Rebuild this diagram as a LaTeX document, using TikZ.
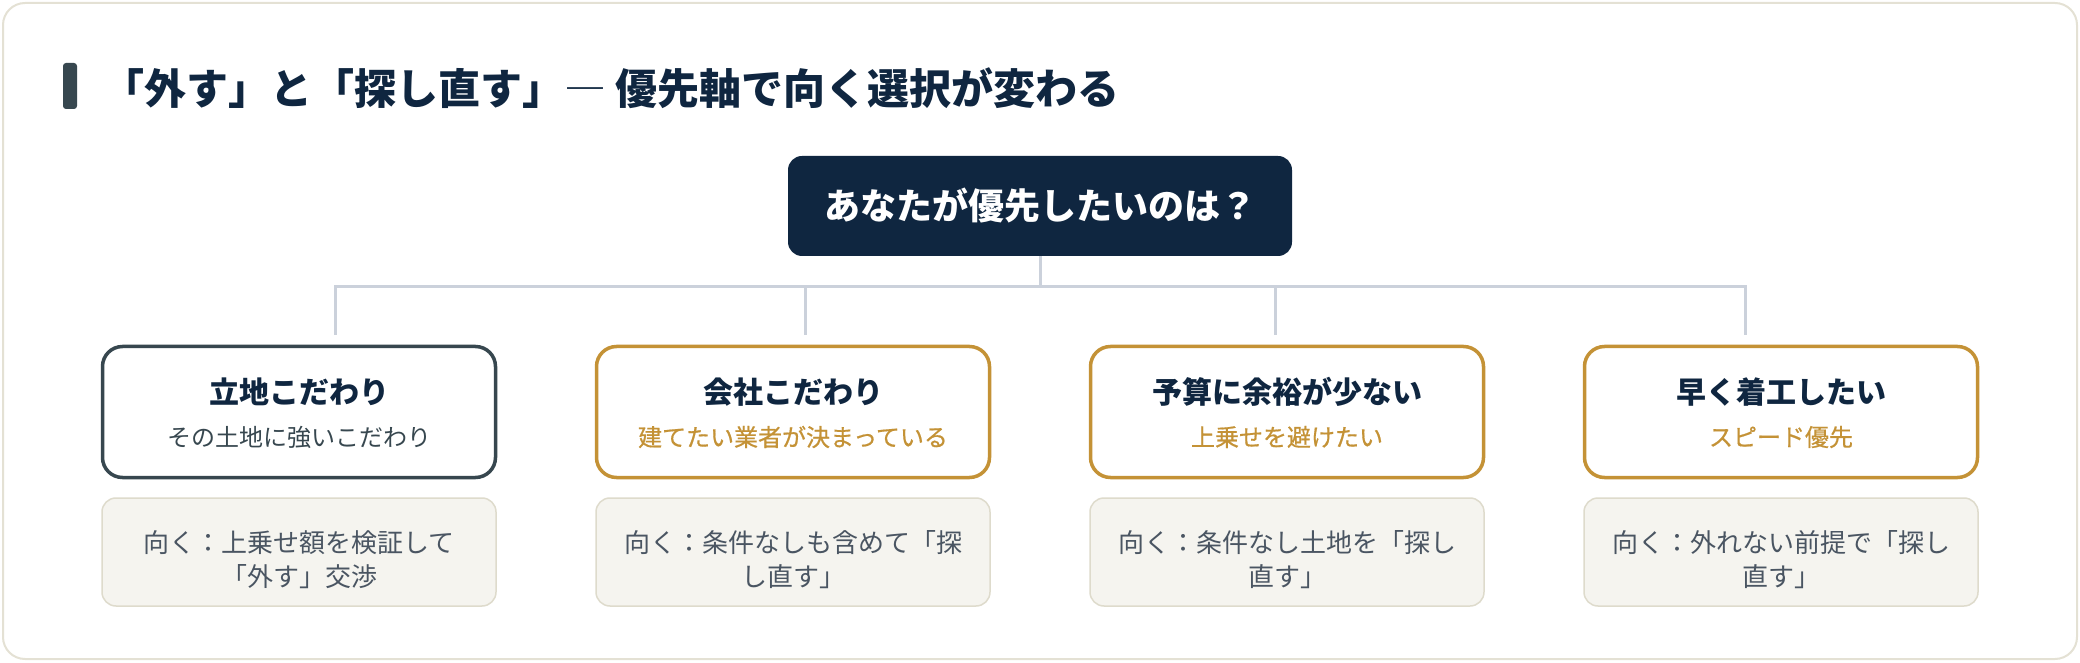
\documentclass[tikz,border=0pt]{standalone}
\usepackage{fontspec}
\setmainfont{Noto Sans CJK JP}
\newfontfamily\jpsemi{Noto Sans CJK JP}[FakeBold=0.6]
\usepackage{xcolor}
\definecolor{navyblue}{RGB}{15,38,64}
\definecolor{slategray}{RGB}{55,71,79}
\definecolor{ochregold}{RGB}{196,146,54}
\definecolor{linkgray}{RGB}{203,209,219}
\definecolor{notefill}{RGB}{245,244,239}
\definecolor{noteline}{RGB}{222,219,204}
\definecolor{notetext}{RGB}{74,85,98}
\definecolor{framebeige}{RGB}{228,225,212}
\usepackage{tikz}
\tikzset{
  link/.style={draw=linkgray, line width=3pt},
  choicebox/.style={draw=#1, line width=3.5pt, rounded corners=20pt, fill=white,
    minimum width=393pt, minimum height=131pt, inner sep=0pt},
  notebox/.style={draw=noteline, line width=1.5pt, rounded corners=14pt, fill=notefill,
    minimum width=394pt, minimum height=108pt, inner sep=0pt},
  headtext/.style={text=navyblue, font=\fontsize{30}{36}\selectfont\bfseries},
  subtext/.style={text=#1, font=\fontsize{24}{30}\selectfont},
  notetxt/.style={text=notetext, align=center, font=\fontsize{26}{34}\selectfont}
}

\begin{document}
\begin{tikzpicture}[x=1pt, y=1pt]
    \useasboundingbox (0,0) rectangle (2080,662);
    \draw[draw=framebeige, line width=2pt, rounded corners=22pt, fill=white] (3,3) rectangle (2077,659);
    \fill[slategray, rounded corners=3pt] (63,553) rectangle (77,599);
    \node[anchor=west, inner sep=0pt, text=navyblue, font=\fontsize{42}{50}\selectfont\bfseries] (title) at (102,574)
        {「外す」と「探し直す」{\mdseries ―} 優先軸で向く選択が変わる};
    \node[fill=navyblue, rounded corners=14pt, minimum width=504pt, minimum height=100pt, inner sep=0pt,
        text=white, font=\fontsize{36}{42}\selectfont\bfseries] (ask) at (1040,456) {あなたが優先したいのは？};
    \coordinate (hub) at (1040,375);
    \draw[link] (ask.south) -- (hub);
    \foreach \n/\cx/\dx/\col/\head/\sub/\lineA/\lineB in {
        1/299/335/slategray/立地こだわり/その土地に強いこだわり/向く：上乗せ額を検証して/「外す」交渉,
        2/793/805/ochregold/会社こだわり/建てたい業者が決まっている/向く：条件なしも含めて「探/し直す」,
        3/1287/1275/ochregold/予算に余裕が少ない/上乗せを避けたい/向く：条件なし土地を「探し/直す」,
        4/1781/1745/ochregold/早く着工したい/スピード優先/向く：外れない前提で「探し/直す」} {
        \coordinate (drop\n) at (\dx,375);
        \coordinate (end\n) at (\dx,327);
        \node[choicebox=\col] (choice\n) at (\cx,250) {};
        \node[headtext] (head\n) at (\cx,270) {\head};
        \node[subtext=\col] (sub\n) at (\cx,225) {\ifnum\n>1 \jpsemi\fi\sub};
        \node[notebox] (note\n) at (\cx,110) {};
        \node[notetxt] (fit\n) at (\cx,102) {\lineA\\\lineB};
    }
    \draw[link] (end1) |- (hub) -| (end4);
    \draw[link] (drop2) -- (end2);
    \draw[link] (drop3) -- (end3);
\end{tikzpicture}
\end{document}
